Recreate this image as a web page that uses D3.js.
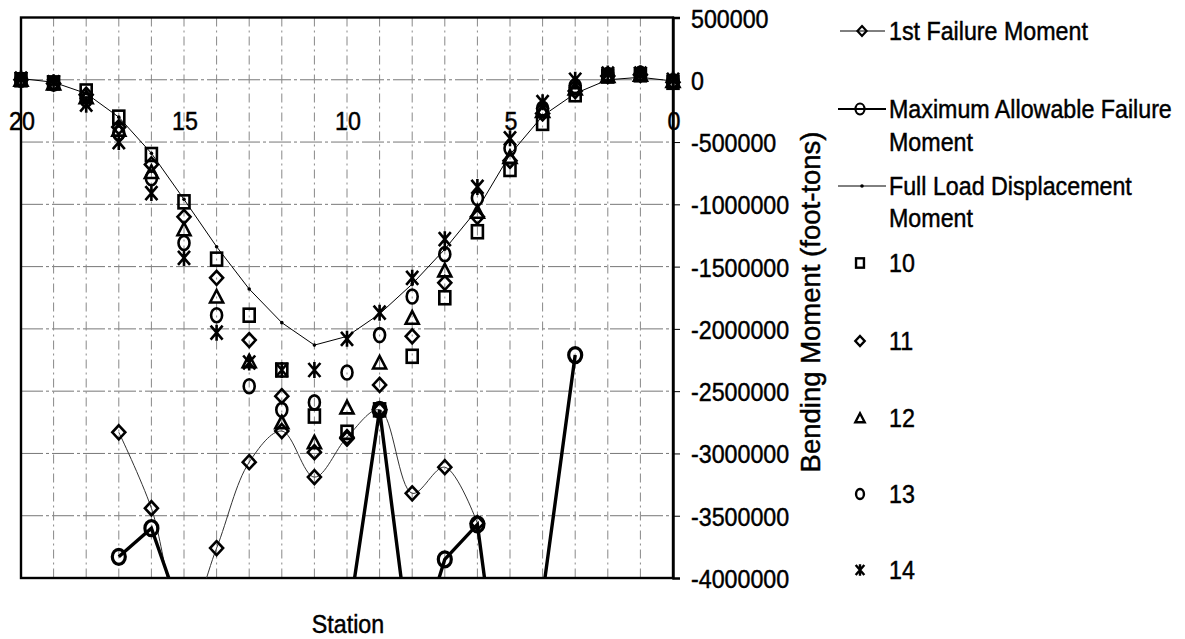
<!DOCTYPE html>
<html>
<head>
<meta charset="utf-8">
<script src="https://cdn.jsdelivr.net/npm/d3@7"></script>
<style>
  body { margin: 0; background: #fff; }
  svg { display: block; }
</style>
</head>
<body>
<svg id="chart" width="1185" height="639"></svg>
<script>
// stations run from 20 (left) down to 0 (right)
const stations = [20, 19, 18, 17, 16, 15, 14, 13, 12, 11, 10, 9, 8, 7, 6, 5, 4, 3, 2, 1, 0];

const firstFailure = [null, null, null, -2830000, -3440000, -4400000, -3760000, -3070000, -2820000, -3190000,
  -2870000, -2650000, -3320000, -3110000, -3560000, null, null, null, null, null, null];
const maxAllowable = [null, null, null, -3830000, -3600000, -4350000, null, null, null, null,
  -4410000, -2650000, -4700000, -3850000, -3570000, -5540000, -4140000, -2210000, null, null, null];
const fullLoad = [10000, -20000, -110000, -300000, -590000, -960000, -1340000, -1680000, -1950000, -2130000,
  -2060000, -1880000, -1640000, -1360000, -1040000, -600000, -290000, -110000, 0, 20000, -10000];

const s10 = [0, -25000, -90000, -300000, -600000, -980000, -1440000, -1890000, -2330000, -2700000,
  -2830000, -2650000, -2220000, -1750000, -1220000, -720000, -350000, -120000, 30000, 40000, -20000];
const s11 = [0, -30000, -120000, -380000, -680000, -1100000, -1590000, -2090000, -2540000, -2990000,
  -2880000, -2450000, -2060000, -1630000, -1100000, -650000, -270000, -90000, 30000, 40000, -20000];
const s12 = [0, -30000, -140000, -400000, -740000, -1200000, -1740000, -2260000, -2750000, -2910000,
  -2630000, -2270000, -1910000, -1530000, -1060000, -620000, -250000, -70000, 30000, 40000, -10000];
const s13 = [0, -30000, -160000, -430000, -790000, -1310000, -1890000, -2460000, -2650000, -2590000,
  -2350000, -2050000, -1740000, -1400000, -950000, -550000, -230000, -50000, 40000, 50000, -10000];
const s14 = [10000, -20000, -200000, -500000, -910000, -1430000, -2030000, -2270000, -2330000, -2330000,
  -2080000, -1870000, -1590000, -1280000, -860000, -470000, -180000, 0, 50000, 50000, 0];

const yTicks = [500000, 0, -500000, -1000000, -1500000, -2000000, -2500000, -3000000, -3500000, -4000000];
const xTicks = [20, 15, 10, 5, 0];

const seriesNames = ["10", "11", "12", "13", "14"];
const seriesShapes = ["square", "diamond", "triangle", "circle", "star"];
const seriesValues = [s10, s11, s12, s13, s14];

const L = 21, R = 673, T = 17.5, B = 578;
const FONT = '"Liberation Sans", Arial, sans-serif';

const svg = d3.select("#chart");

const x = d3.scaleLinear().domain([20, 0]).range([L, R]);
const y = d3.scaleLinear().domain([-4000000, 500000]).range([B, T]);

function label(g, str, px, py, anchor = "start", size = 25) {
  return g.append("text")
    .attr("transform", `translate(${px},${py}) scale(0.93,1)`)
    .attr("text-anchor", anchor)
    .style("font", `${size}px ${FONT}`)
    .style("fill", "#000")
    .style("stroke", "#000")
    .style("stroke-width", "0.45px")
    .text(str);
}

function marker(g, shape, px, py, k = 1, sw = 2.6) {
  const m = g.append("g").attr("transform", `translate(${px},${py}) scale(${k})`);
  const st = el => el.attr("fill", "none").attr("stroke", "#000").attr("stroke-width", sw / k);
  if (shape === "square") st(m.append("rect").attr("x", -5.5).attr("y", -6.5).attr("width", 11).attr("height", 13));
  if (shape === "diamond") st(m.append("path").attr("d", "M0,-7L6.5,0L0,7L-6.5,0Z"));
  if (shape === "triangle") st(m.append("path").attr("d", "M0,-6.5L6.5,6L-6.5,6Z"));
  if (shape === "circle") st(m.append("ellipse").attr("rx", 5.5).attr("ry", 7));
  if (shape === "star") st(m.append("path").attr("d", "M-6,-7L6,7M6,-7L-6,7M0,-8L0,8"));
  return m;
}

// clip for lines
svg.append("defs").append("clipPath").attr("id", "plot")
  .append("rect").attr("x", L).attr("y", T).attr("width", R - L).attr("height", B - T);

// gridlines
const grid = svg.append("g");
grid.selectAll("line.h").data(yTicks.slice(1, -1)).join("line")
  .attr("x1", L).attr("x2", R)
  .attr("y1", d => y(d)).attr("y2", d => y(d))
  .attr("stroke", "#777").attr("stroke-width", 1)
  .attr("stroke-dasharray", "22,3,3,3");
grid.selectAll("line.v").data(stations.slice(1, -1)).join("line")
  .attr("x1", d => x(d)).attr("x2", d => x(d))
  .attr("y1", T).attr("y2", B)
  .attr("stroke", "#888").attr("stroke-width", 1)
  .attr("stroke-dasharray", "9,4,2,4");

// frame
svg.append("rect")
  .attr("x", L).attr("y", T).attr("width", R - L).attr("height", B - T)
  .attr("fill", "none").attr("stroke", "#000").attr("stroke-width", 2.4);

// y axis on the right
const yAxis = svg.append("g")
  .attr("transform", `translate(${R},0)`)
  .call(d3.axisRight(y).tickValues(yTicks).tickSize(7).tickFormat(d => d.toString()));
yAxis.select(".domain").attr("stroke-width", 2.4);
yAxis.selectAll(".tick line").attr("stroke-width", 1);
yAxis.selectAll(".tick text").remove();
yTicks.forEach(v => label(svg, v.toString(), 691, y(v) + 10));

// x tick labels sit just below the zero line
const xAxis = svg.append("g")
  .attr("transform", `translate(0,${y(0)})`)
  .call(d3.axisBottom(x).tickValues(xTicks).tickSize(0));
xAxis.select(".domain").remove();
xAxis.selectAll(".tick text").remove();
xTicks.forEach(s => label(svg, s.toString(), x(s) + 1, y(0) + 50, "middle"));

// axis titles
label(svg, "Station", 348, 633, "middle");
svg.append("text")
  .attr("transform", "translate(820,302) rotate(-90)")
  .attr("text-anchor", "middle")
  .style("font", `27.5px ${FONT}`)
  .style("stroke", "#000")
  .style("stroke-width", "0.45px")
  .text("Bending Moment (foot-tons)");

const pts = vals => stations.map((s, i) => [s, vals[i]]);
const inRange = v => v !== null && v >= -4000000 && v <= 500000;

const plot = svg.append("g").attr("clip-path", "url(#plot)");

// 1st failure moment, smoothed thin line
plot.append("path")
  .datum(pts(firstFailure))
  .attr("d", d3.line().defined(d => d[1] !== null).x(d => x(d[0])).y(d => y(d[1]))
    .curve(d3.curveCatmullRom.alpha(0.5)))
  .attr("fill", "none").attr("stroke", "#333").attr("stroke-width", 1);

// maximum allowable, thick straight line
plot.append("path")
  .datum(pts(maxAllowable))
  .attr("d", d3.line().defined(d => d[1] !== null).x(d => x(d[0])).y(d => y(d[1])))
  .attr("fill", "none").attr("stroke", "#000").attr("stroke-width", 3.4);

// full load displacement
plot.append("path")
  .datum(pts(fullLoad))
  .attr("d", d3.line().x(d => x(d[0])).y(d => y(d[1])))
  .attr("fill", "none").attr("stroke", "#000").attr("stroke-width", 1);

const marks = svg.append("g");
pts(firstFailure).filter(d => inRange(d[1])).forEach(d => marker(marks, "diamond", x(d[0]), y(d[1]), 1, 2.6));
pts(maxAllowable).filter(d => inRange(d[1])).forEach(d => {
  marks.append("ellipse").attr("cx", x(d[0])).attr("cy", y(d[1])).attr("rx", 6.5).attr("ry", 7.5)
    .attr("fill", "none").attr("stroke", "#000").attr("stroke-width", 3.2);
});
pts(fullLoad).filter(d => inRange(d[1])).forEach(d => {
  marks.append("circle").attr("cx", x(d[0])).attr("cy", y(d[1])).attr("r", 1.8).attr("fill", "#000");
});

seriesValues.forEach((vals, k) => {
  pts(vals).filter(d => inRange(d[1])).forEach(d => marker(marks, seriesShapes[k], x(d[0]), y(d[1])));
});

// legend
const lg = svg.append("g");
lg.append("line").attr("x1", 840).attr("x2", 885).attr("y1", 31).attr("y2", 31).attr("stroke", "#000").attr("stroke-width", 1);
marker(lg, "diamond", 862, 31, 0.7, 2.2);
label(lg, "1st Failure Moment", 889, 40);

lg.append("line").attr("x1", 838).attr("x2", 886).attr("y1", 109).attr("y2", 109).attr("stroke", "#000").attr("stroke-width", 2.2);
lg.append("ellipse").attr("cx", 860).attr("cy", 109).attr("rx", 4.5).attr("ry", 5.5)
  .attr("fill", "none").attr("stroke", "#000").attr("stroke-width", 2.2);
label(lg, "Maximum Allowable Failure", 889, 118);
label(lg, "Moment", 889, 151);

lg.append("line").attr("x1", 838).attr("x2", 886).attr("y1", 186).attr("y2", 186).attr("stroke", "#000").attr("stroke-width", 1);
lg.append("circle").attr("cx", 862).attr("cy", 186).attr("r", 1.8).attr("fill", "#000");
label(lg, "Full Load Displacement", 889, 195);
label(lg, "Moment", 889, 227);

const legendY = [263, 341, 418, 494, 570];
seriesNames.forEach((n, k) => {
  marker(lg, seriesShapes[k], 860, legendY[k], 0.72, 2.4);
  label(lg, n, 889, legendY[k] + 9);
});
</script>
</body>
</html>
